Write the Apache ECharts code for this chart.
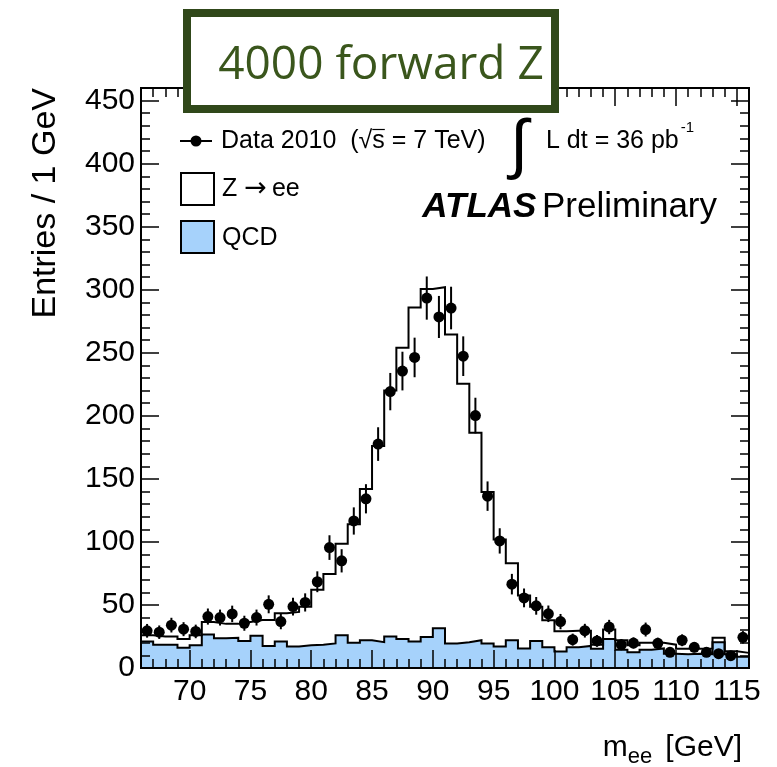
<!DOCTYPE html>
<html>
<head>
<meta charset="utf-8">
<script src="https://cdn.jsdelivr.net/npm/echarts@6/dist/echarts.min.js"></script>
<style>
  html, body { margin: 0; padding: 0; background: #ffffff; }
  #chart { width: 777px; height: 767px; }
</style>
</head>
<body>
<div id="chart"></div>
<script>
// Di-electron invariant mass, 1 GeV bins from 66 to 116 GeV
const binEdges = [66, 67, 68, 69, 70, 71, 72, 73, 74, 75, 76, 77, 78, 79, 80, 81, 82, 83, 84, 85,
  86, 87, 88, 89, 90, 91, 92, 93, 94, 95, 96, 97, 98, 99, 100, 101, 102, 103, 104, 105,
  106, 107, 108, 109, 110, 111, 112, 113, 114, 115, 116];

// QCD background (filled, bottom of the stack)
const qcdCounts = [21, 18.5, 18.5, 16, 18, 26.5, 23.5, 24, 21.5, 25.5,
  17.5, 21, 17, 18, 18.5, 19.5, 26, 20, 22, 20.5,
  25, 23, 21, 24.5, 31.5, 19.5, 20.5, 22, 19.5, 17,
  22, 15.5, 21.5, 16.5, 13, 16.5, 17.5, 15.3, 23, 14.5,
  12.5, 14.5, 15.5, 11.3, 11, 11.3, 11, 20.5, 11, 9];

// Z -> ee signal (stacked on top of QCD)
const zeeCounts = [5, 6.5, 6.5, 7, 8, 10, 11.5, 11, 15, 12.5,
  20.5, 22.5, 27.5, 30.5, 43.5, 55, 72.5, 94, 120, 155.5,
  195, 231, 265, 276, 270.5, 245, 205, 164.5, 120, 85,
  61, 42, 27, 21.3, 16.2, 13, 12, 3.2, 7.5, 7.5,
  5.5, 5.5, 4.5, 7.2, 4.3, 4, 4.5, 3.5, 2.2, 3];

// Data 2010 (sqrt(s) = 7 TeV)
const dataCounts = [29.5, 28.4, 34, 30.8, 29, 40.8, 40, 42.9, 35.5, 40,
  50.5, 36.8, 48.7, 52, 68.4, 95.5, 85, 116.6, 134.2, 177.6,
  219.2, 235.5, 246.3, 293.4, 278.4, 285.5, 247.3, 200.2, 136.3, 100.8,
  66.5, 55.6, 49.3, 43, 36.8, 22.5, 29.6, 21.5, 32.5, 18.5,
  19.8, 30.5, 19.6, 12.4, 22, 16.4, 12.4, 11.4, 9.8, 24.3];

const xTickLabels = [70, 75, 80, 85, 90, 95, 100, 105, 110, 115];
const yTickLabels = [0, 50, 100, 150, 200, 250, 300, 350, 400, 450];

const FONT = 'Liberation Sans, Arial, Helvetica, sans-serif';
const QCD_BLUE = '#a6d2fb';

// stacked expectation: QCD + Z -> ee
const mcTotal = qcdCounts.map((q, i) => q + zeeCounts[i]);

// step-histogram outline: each bin contributes its two edges at the bin height
function histPoints(counts) {
  const pts = [];
  counts.forEach((v, i) => {
    pts.push([binEdges[i], v]);
    pts.push([binEdges[i + 1], v]);
  });
  return pts;
}
const dataPoints = dataCounts.map((n, i) => [
  (binEdges[i] + binEdges[i + 1]) / 2, n, Math.sqrt(n)
]);

// width of a text run, used to place the sqrt bar and the superscript
function textWidth(str, font) {
  const ctx = document.createElement('canvas').getContext('2d');
  ctx.font = font;
  return ctx.measureText(str).width;
}
const LEG_FONT = '25px ' + FONT;
const LEG_X = 221;
const sqrtBarX1 = LEG_X + textWidth('Data 2010  (√', LEG_FONT);
const sqrtBarX2 = LEG_X + textWidth('Data 2010  (√s', LEG_FONT);
const LUMI_X = 546;
const lumiSupX = LUMI_X + textWidth('L dt = 36 pb', LEG_FONT) + 2;

const chart = echarts.init(document.getElementById('chart'), null, { renderer: 'canvas' });

const tickAxisBase = {
  type: 'value',
  z: 5,
  splitLine: { show: false },
  axisLine: { show: true, onZero: false, lineStyle: { color: '#000', width: 2 } }
};

function xAxisPair(position, withLabels) {
  return [
    Object.assign({}, tickAxisBase, {
      position, min: 66, max: 116, interval: 1,
      axisTick: { show: true, inside: true, length: 9, lineStyle: { color: '#000', width: 1.5 } },
      axisLabel: { show: false }
    }),
    Object.assign({}, tickAxisBase, {
      position, min: 66, max: 116,
      axisTick: { show: true, inside: true, length: 18, customValues: xTickLabels,
        lineStyle: { color: '#000', width: 1.5 } },
      axisLabel: withLabels ? {
        show: true, customValues: xTickLabels, margin: 9,
        fontSize: 30, fontFamily: FONT, color: '#000'
      } : { show: false }
    })
  ];
}

function yAxisPair(position, withLabels) {
  return [
    Object.assign({}, tickAxisBase, {
      position, min: 0, max: 460, interval: 10,
      axisTick: { show: true, inside: true, length: 9, lineStyle: { color: '#000', width: 1.5 } },
      axisLabel: { show: false }
    }),
    Object.assign({}, tickAxisBase, {
      position, min: 0, max: 460,
      axisTick: { show: true, inside: true, length: 18, customValues: yTickLabels,
        lineStyle: { color: '#000', width: 1.5 } },
      axisLabel: withLabels ? {
        show: true, customValues: yTickLabels, margin: 6,
        fontSize: 30, fontFamily: FONT, color: '#000'
      } : { show: false }
    })
  ];
}

const option = {
  backgroundColor: '#ffffff',
  animation: false,
  grid: { left: 141, top: 88, width: 608, height: 580, containLabel: false },
  xAxis: [].concat(xAxisPair('bottom', true), xAxisPair('top', false)),
  yAxis: [].concat(yAxisPair('left', true), yAxisPair('right', false)),
  series: [
    {
      name: 'QCD',
      type: 'line',
      data: histPoints(qcdCounts),
      symbol: 'none',
      lineStyle: { color: '#000', width: 2, join: 'miter' },
      areaStyle: { color: QCD_BLUE, opacity: 1 },
      z: 2
    },
    {
      name: 'Z → ee',
      type: 'line',
      data: histPoints(mcTotal),
      symbol: 'none',
      lineStyle: { color: '#000', width: 2, join: 'miter' },
      z: 3
    },
    {
      name: 'Data error',
      type: 'custom',
      data: dataPoints,
      encode: { x: 0, y: 1 },
      renderItem: function (params, api) {
        const x = api.value(0), y = api.value(1), e = api.value(2);
        const lo = api.coord([x, y - e]);
        const hi = api.coord([x, y + e]);
        return {
          type: 'line',
          shape: { x1: lo[0], y1: lo[1], x2: hi[0], y2: hi[1] },
          style: { stroke: '#000', lineWidth: 2 }
        };
      },
      z: 4
    },
    {
      name: 'Data 2010',
      type: 'scatter',
      data: dataPoints.map(p => [p[0], p[1]]),
      symbol: 'circle',
      symbolSize: 11,
      itemStyle: { color: '#000', opacity: 1 },
      z: 5
    }
  ],
  graphic: [
    // legend: data
    { type: 'line', shape: { x1: 180, y1: 141, x2: 212, y2: 141 }, style: { stroke: '#000', lineWidth: 2 }, z: 20 },
    { type: 'circle', shape: { cx: 196, cy: 141, r: 5.5 }, style: { fill: '#000' }, z: 20 },
    { type: 'text', x: LEG_X, y: 141, z: 20,
      style: { text: 'Data 2010  (√s = 7 TeV)', font: LEG_FONT, fill: '#000', verticalAlign: 'middle' } },
    { type: 'line', shape: { x1: sqrtBarX1, y1: 129.5, x2: sqrtBarX2, y2: 129.5 },
      style: { stroke: '#000', lineWidth: 1.2 }, z: 20 },
    // legend: Z -> ee
    { type: 'rect', shape: { x: 181, y: 173, width: 33, height: 32 }, style: { fill: '#fff', stroke: '#000', lineWidth: 2 }, z: 20 },
    { type: 'text', x: 222, y: 189, z: 20,
      style: {
        text: '{t|Z}{a|→}{t|ee}', verticalAlign: 'middle',
        rich: {
          t: { fontSize: 25, fontFamily: FONT, fill: '#000' },
          a: { fontSize: 27, fontFamily: 'DejaVu Sans', fill: '#000', padding: [0, 5, 0, 7] }
        }
      } },
    // legend: QCD
    { type: 'rect', shape: { x: 181, y: 221, width: 33, height: 32 }, style: { fill: QCD_BLUE, stroke: '#000', lineWidth: 2 }, z: 20 },
    { type: 'text', x: 222, y: 238, z: 20,
      style: { text: 'QCD', font: LEG_FONT, fill: '#000', verticalAlign: 'middle' } },
    // integrated luminosity
    { type: 'text', x: 510, y: 148, z: 20,
      style: { text: '∫', font: '66px ' + FONT, fill: '#000', verticalAlign: 'middle' } },
    { type: 'text', x: LUMI_X, y: 141, z: 20,
      style: { text: 'L dt = 36 pb', font: LEG_FONT, fill: '#000', verticalAlign: 'middle' } },
    { type: 'text', x: lumiSupX, y: 128, z: 20,
      style: { text: '-1', font: '15px ' + FONT, fill: '#000', verticalAlign: 'middle' } },
    // experiment label
    { type: 'text', x: 717, y: 207, z: 20,
      style: {
        text: '{b|ATLAS}{g| }{n|Preliminary}',
        align: 'right', verticalAlign: 'middle',
        rich: {
          b: { fontSize: 35, fontFamily: FONT, fontWeight: 'bold', fontStyle: 'italic', fill: '#000' },
          g: { fontSize: 20, fontFamily: FONT },
          n: { fontSize: 35, fontFamily: FONT, fill: '#000' }
        }
      } },
    // axis titles
    { type: 'text', z: 20, x: 46, y: 88, rotation: Math.PI / 2,
      style: { text: 'Entries / 1 GeV', font: '34px ' + FONT, fill: '#000',
        align: 'right', verticalAlign: 'middle' } },
    { type: 'text', z: 20, x: 742, y: 748,
      style: {
        text: '{m|m}{s|ee}{g| }{m|[GeV]}',
        align: 'right', verticalAlign: 'middle',
        rich: {
          m: { fontSize: 30, fontFamily: FONT, fill: '#000' },
          s: { fontSize: 22, fontFamily: FONT, fill: '#000', padding: [17, 0, 0, 0] },
          g: { fontSize: 30, fontFamily: FONT, width: 13 }
        }
      } },
    // framed banner
    { type: 'rect', z: 30, shape: { x: 187, y: 13, width: 368, height: 96 },
      style: { fill: '#ffffff', stroke: '#30481a', lineWidth: 8 } },
    { type: 'text', z: 31, x: 381, y: 66,
      style: { text: '4000 forward Z', font: '46px "Open Sans", sans-serif', fill: '#3a561c',
        align: 'center', verticalAlign: 'middle' } }
  ]
};

chart.setOption(option);
</script>
</body>
</html>
